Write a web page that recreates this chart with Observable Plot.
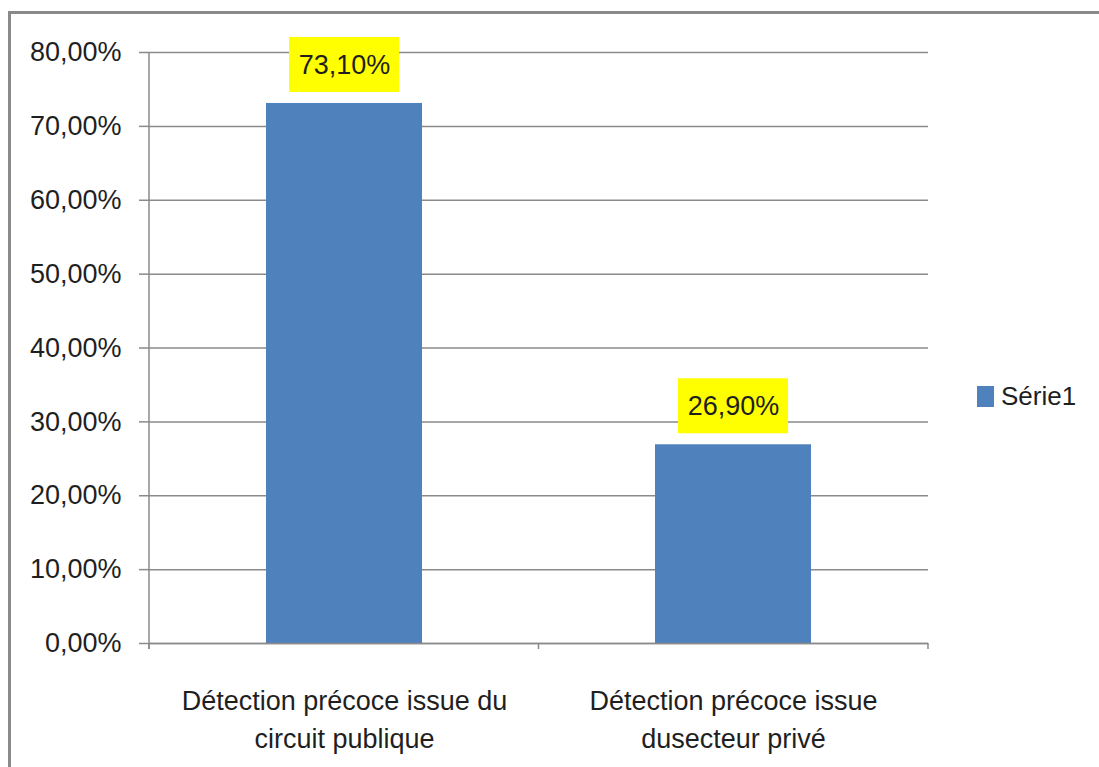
<!DOCTYPE html>
<html>
<head>
<meta charset="utf-8">
<script src="https://cdn.jsdelivr.net/npm/d3@7"></script>
<script src="https://cdn.jsdelivr.net/npm/@observablehq/plot@0.6"></script>
<style>
  html, body { margin: 0; padding: 0; background: #fff; }
  #wrap { position: relative; width: 1099px; height: 767px; overflow: hidden; background: #fff; }
  #border { position: absolute; left: 8px; top: 11px; width: 1200px; height: 900px; border: 3px solid #8a8a8a; box-sizing: border-box; }
  #chart { position: absolute; left: 0; top: 0; }
  #legend { position: absolute; left: 977px; top: 380px; }
  .lg-swatch > svg { margin-right: 7px !important; }
</style>
</head>
<body>
<div id="wrap">
  <div id="border"></div>
  <div id="chart"></div>
  <div id="legend"></div>
</div>
<script>
// ---- data ----
const categories = [
  "Détection précoce issue du circuit publique",
  "Détection précoce issue dusecteur privé"
];
const categoryLines = [
  "Détection précoce issue du\ncircuit publique",
  "Détection précoce issue\ndusecteur privé"
];
const values = [0.731, 0.269];
const valueLabels = ["73,10%", "26,90%"];
const yTicks = [0, 0.1, 0.2, 0.3, 0.4, 0.5, 0.6, 0.7, 0.8];
const yTickLabels = ["0,00%", "10,00%", "20,00%", "30,00%", "40,00%", "50,00%", "60,00%", "70,00%", "80,00%"];
const seriesName = "Série1";

// ---- styles ----
const barColor = "#4f81bd";
const labelBg = "#ffff00";
const gridColor = "#8a8a8a";
const textColor = "#1f1f1f";
const fontFamily = '"Liberation Sans", Arial, sans-serif';

const data = categories.map((c, i) => ({category: c, value: values[i], label: valueLabels[i], series: seriesName}));
const lineOf = Object.fromEntries(categories.map((c, i) => [c, categoryLines[i]]));
const yLabelOf = new Map(yTicks.map((t, i) => [t, yTickLabels[i]]));

function axisLines(index, scales, values, dims) {
  const x = scales.x;
  const bw = x.bandwidth ? x.bandwidth() : 0;
  const centers = categories.map(c => x(c) + bw / 2);
  const left = dims.marginLeft, right = dims.width - dims.marginRight;
  const top = dims.marginTop, bottom = dims.height - dims.marginBottom;
  const bounds = [left, ...d3.pairs(centers).map(([a, b]) => (a + b) / 2), right];
  const g = d3.create("svg:g").attr("stroke", gridColor).attr("stroke-width", 1.5);
  g.append("line").attr("x1", left).attr("x2", left).attr("y1", top).attr("y2", bottom + 6);
  for (const b of bounds) {
    g.append("line").attr("x1", b).attr("x2", b).attr("y1", bottom).attr("y2", bottom + 6);
  }
  return g.node();
}

const chart = Plot.plot({
  width: 1099,
  height: 767,
  marginLeft: 149,
  marginRight: 171,
  marginTop: 52,
  marginBottom: 124,
  style: {fontFamily, fontSize: "27px", color: textColor, background: "transparent", overflow: "visible"},
  x: {domain: categories, paddingInner: 0.6, paddingOuter: 0.3, axis: null},
  y: {domain: [0, 0.8], axis: null},
  color: {domain: [seriesName], range: [barColor]},
  marks: [
    Plot.gridY(yTicks, {stroke: gridColor, strokeOpacity: 1, strokeWidth: 1.5}),
    Plot.axisY(yTicks, {tickSize: 10, tickPadding: 18, stroke: gridColor, strokeOpacity: 1, strokeWidth: 1.5,
      tickFormat: d => yLabelOf.get(d), fontSize: 27, fill: textColor, label: null}),
    Plot.barY(data, {x: "category", y: "value", fill: "series"}),
    Plot.barY(data, {x: "category", y1: "value", y2: "value", fill: labelBg,
      insetTop: -66, insetBottom: 11, insetLeft: 23, insetRight: 23}),
    Plot.text(data, {x: "category", y: "value", text: "label", dy: -38, fontSize: 27, fill: textColor}),
    Plot.axisX({tickSize: 0, tickPadding: 39, tickFormat: d => lineOf[d], lineHeight: 1.41, fontSize: 27, fill: textColor, label: null}),
    Plot.ruleY([0], {stroke: gridColor, strokeWidth: 1.5}),
    axisLines
  ]
});
document.getElementById("chart").appendChild(chart);

const legend = Plot.legend({
  color: {domain: [seriesName], range: [barColor]},
  legend: "swatches",
  swatchWidth: 17,
  swatchHeight: 21,
  className: "lg",
  style: {fontFamily, fontSize: "26px", color: textColor, margin: 0}
});
document.getElementById("legend").appendChild(legend);
</script>
</body>
</html>
